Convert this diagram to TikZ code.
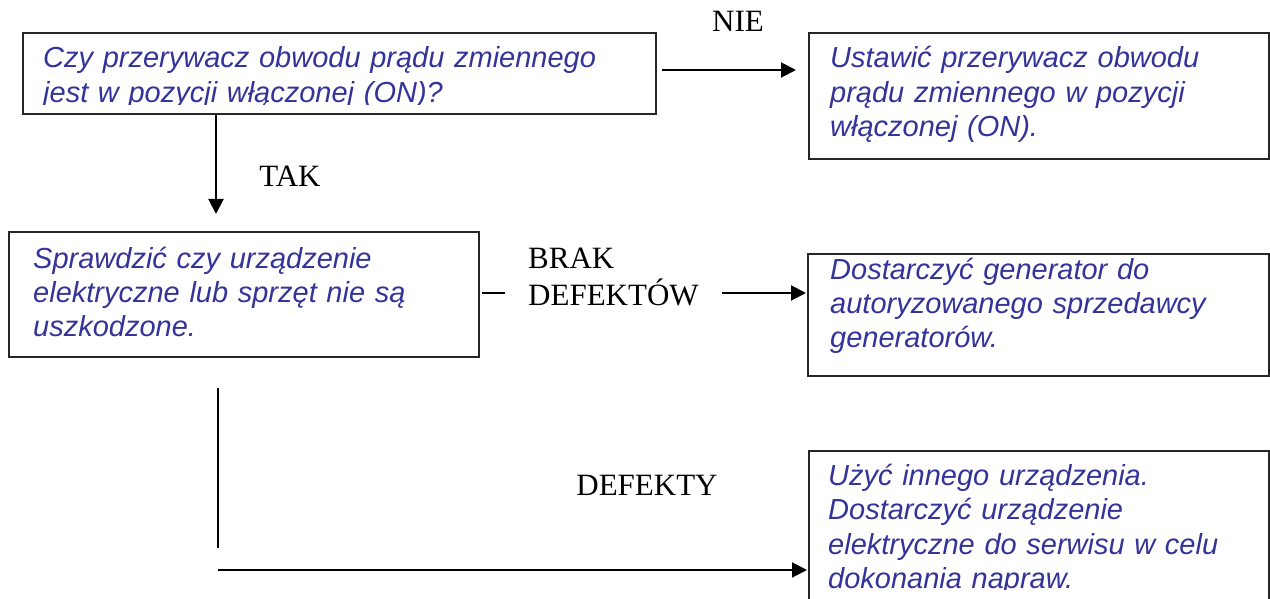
\documentclass[tikz,border=0pt]{standalone}
\usepackage{fontspec}
\setmainfont{Liberation Serif}
\newfontfamily\arialfont{Liberation Sans}
\usetikzlibrary{arrows.meta}
\definecolor{txtblue}{RGB}{51,51,153}
\begin{document}
\begin{tikzpicture}[x=1pt,y=-1pt,
  box/.style={draw=black!85, line width=2pt, anchor=north west, inner sep=0pt},
  btext/.style={anchor=base west, inner sep=0pt, text width=#1, align=left, text=txtblue,
    font=\arialfont\itshape\fontsize{29}{34.5}\selectfont},
  lbl/.style={inner sep=0pt, font=\fontsize{31}{37}\selectfont},
  conn/.style={line width=2pt},
  arr/.style={conn, -{Triangle[length=15pt,width=15pt]}}]
\useasboundingbox (0,0) rectangle (1270,599);
\clip (0,0) rectangle (1270,599);
% boxes
\node[box, minimum width=633pt, minimum height=81pt] (b1) at (22,32) {};
\node[box, minimum width=460pt, minimum height=126pt] (b2) at (808,32) {};
\node[box, minimum width=470pt, minimum height=125pt] (b3) at (8,231) {};
\node[box, minimum width=461pt, minimum height=122pt] (b4) at (807,253) {};
\node[box, minimum width=460pt, minimum height=170pt] (b5) at (808,450) {};
% texts
\begin{scope}
\clip (22,32) rectangle (655,104.5);
\node[btext=600pt] (t1) at (43,68) {Czy przerywacz obwodu prądu zmiennego\\jest w pozycji włączonej (ON)?};
\end{scope}
\node[btext=430pt] (t2) at (830,68) {Ustawić przerywacz obwodu\\prądu zmiennego w pozycji\\włączonej (ON).};
\node[btext=440pt] (t3) at (33,268) {Sprawdzić czy urządzenie\\elektryczne lub sprzęt nie są\\uszkodzone.};
\node[btext=430pt] (t4) at (830,279) {Dostarczyć generator do\\autoryzowanego sprzedawcy\\generatorów.};
\begin{scope}
\clip (808,450) rectangle (1270,589.5);
\node[btext=430pt] (t5) at (828,485) {Użyć innego urządzenia.\\Dostarczyć urządzenie\\elektryczne do serwisu w celu\\dokonania napraw.};
\end{scope}
% labels
\node[lbl, anchor=base] (nie) at (738,32) {NIE};
\node[lbl, anchor=base] (tak) at (290,186) {TAK};
\node[lbl, anchor=base west, text width=200pt, align=left] (brak) at (528,268) {BRAK\\DEFEKTÓW};
\node[lbl, anchor=base] (def) at (647,495) {DEFEKTY};
% connector end points
\coordinate (n1) at (662,70);
\coordinate (n2) at (796,70);
\coordinate (d1) at (216,115);
\coordinate (d2) at (216,214);
\coordinate (s1) at (482,293);
\coordinate (s2) at (505,293);
\coordinate (r1) at (722,293);
\coordinate (r2) at (806,293);
\coordinate (v1) at (218,388);
\coordinate (v2) at (218,548);
\coordinate (h1) at (218,570);
\coordinate (h2) at (807,570);
% connectors
\draw[arr] (n1) -- (n2);
\draw[arr] (d1) -- (d2);
\draw[conn] (s1) -- (s2);
\draw[arr] (r1) -- (r2);
\draw[conn] (v1) -- (v2);
\draw[arr] (h1) -- (h2);
\end{tikzpicture}
\end{document}
